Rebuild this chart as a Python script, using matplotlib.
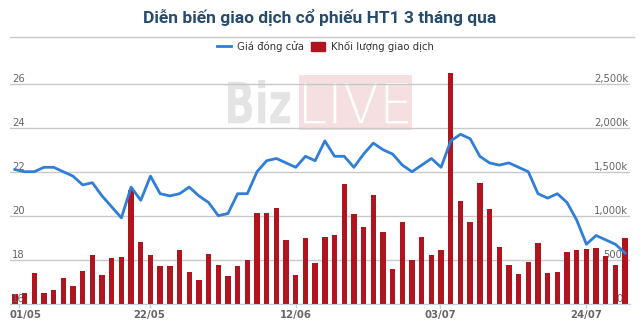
import numpy as np
import matplotlib
matplotlib.use("Agg")
import matplotlib.pyplot as plt
from matplotlib.lines import Line2D
from matplotlib.patches import Patch, PathPatch, Rectangle
from matplotlib.textpath import TextPath
from matplotlib.font_manager import FontProperties
from matplotlib.transforms import Affine2D, IdentityTransform, ScaledTranslation

title = "Diễn biến giao dịch cổ phiếu HT1 3 tháng qua"
price_label = "Giá đóng cửa"
volume_label = "Khối lượng giao dịch"

# closing price (thousand VND), one per trading session
price = [22.1, 22.0, 22.0, 22.2, 22.2, 22.0, 21.8, 21.4, 21.5, 20.9,
         20.4, 19.9, 21.3, 20.7, 21.8, 21.0, 20.9, 21.0, 21.3, 20.9,
         20.6, 20.0, 20.1, 21.0, 21.0, 22.0, 22.5, 22.6, 22.4, 22.2,
         22.7, 22.5, 23.4, 22.7, 22.7, 22.2, 22.8, 23.3, 23.0, 22.8,
         22.3, 22.0, 22.3, 22.6, 22.2, 23.4, 23.7, 23.5, 22.7, 22.4,
         22.3, 22.4, 22.2, 22.0, 21.0, 20.8, 21.0, 20.6, 19.8, 18.7,
         19.1, 18.9, 18.7, 18.3]

# traded volume (thousand shares)
volume = [109, 121, 347, 121, 155, 287, 200, 370, 551, 325,
          521, 532, 1287, 706, 551, 434, 423, 608, 358, 272,
          562, 445, 317, 434, 498, 1030, 1030, 1083, 728, 325,
          747, 464, 758, 777, 1355, 1019, 868, 1234, 811, 392,
          932, 498, 758, 551, 611, 2620, 1170, 925, 1374, 1072,
          649, 445, 336, 475, 694, 347, 358, 585, 608, 619,
          638, 543, 445, 747]

date_labels = ["01/05", "22/05", "12/06", "03/07", "24/07"]
date_pos = [1.45, 14.9, 30, 44.9, 60]

price_ticks = [16, 18, 20, 22, 24, 26]
volume_ticks = [0, 500, 1000, 1500, 2000, 2500]

x = np.arange(1, len(price) + 1)

W, H = 640, 334
fig = plt.figure(figsize=(W / 100, H / 100), dpi=100)
fig.patch.set_facecolor("white")

# plot area in pixels
left, right, top, bottom = 10, 630, 62, 303.7
ax = fig.add_axes([left / W, 1 - bottom / H, (right - left) / W, (bottom - top) / H])
ax.patch.set_visible(False)
ax2 = ax.twinx()

px_per_vol = 44 / 500
ax.bar(x, volume, width=0.55, color="#b0141f", zorder=2)
ax.set_xlim(0.5, len(x) + 0.5)
ax.set_ylim(0, (bottom - top) / px_per_vol)
ax.set_yticks(volume_ticks)
ax.set_yticklabels([f"{v:,}k" for v in volume_ticks])
ax.yaxis.tick_right()
ax.tick_params(axis="y", length=0, pad=-1.5, labelsize=7.2, labelcolor="#666666")
for t in ax.yaxis.get_major_ticks():
    t.label2.set_ha("right")
    t.label2.set_va("bottom")
ax.grid(axis="y", color="#c8c8c8", lw=1)
ax.set_axisbelow(True)

ax.set_xticks(date_pos)
ax.set_xticklabels(date_labels)
ax.tick_params(axis="x", length=3, width=1, color="#c0d0e0", pad=1.5,
               labelsize=7.3, labelcolor="#666666")
for lbl in ax.get_xticklabels():
    lbl.set_fontweight("bold")
first = ax.get_xticklabels()[0]
first.set_transform(first.get_transform() + ScaledTranslation(6 / 100, 0, fig.dpi_scale_trans))

for s in ["top", "left", "right"]:
    ax.spines[s].set_visible(False)
ax.spines["bottom"].set_color("#c0d0e0")
ax.spines["bottom"].set_zorder(3)

ax2.plot(x, price, color="#2f7ed8", lw=2, zorder=3)
ax2.set_ylim(16, 16 + (bottom - top) / 22)
ax2.set_yticks(price_ticks)
ax2.yaxis.tick_left()
ax2.tick_params(axis="y", length=0, pad=-1.5, labelsize=7.2, labelcolor="#666666")
for t in ax2.yaxis.get_major_ticks():
    t.label1.set_ha("left")
    t.label1.set_va("bottom")
for s in ax2.spines.values():
    s.set_visible(False)

# title and separator
fig.text(0.5, 1 - 22.7 / H, title, ha="center", va="baseline",
         fontsize=12.5, fontweight="bold", color="#274b6d",
         family=["Roboto", "DejaVu Sans"])
fig.add_artist(Line2D([10 / W, 634 / W], [1 - 36.7 / H] * 2, color="#c8c8c8", lw=1))

handles = [Line2D([], [], color="#2f7ed8", lw=2),
           Patch(facecolor="#b0141f", edgecolor="#b0141f")]
fig.legend(handles, [price_label, volume_label], ncol=2, loc="center",
           bbox_to_anchor=(325.4 / W, 1 - 46.5 / H), frameon=False,
           fontsize=7.3, labelcolor="#333333", handlelength=1.4,
           handleheight=1.0, handletextpad=0.6, columnspacing=0.7,
           borderpad=0, borderaxespad=0)


# BizLIVE watermark behind the plot
def word(text, weight, x0, x1, y_top, y_base, color):
    tp = TextPath((0, 0), text, size=10, prop=FontProperties(family="DejaVu Sans", weight=weight))
    bb = tp.get_extents()
    tr = (Affine2D().translate(-bb.x0, -bb.y0)
          .scale((x1 - x0) / bb.width, (y_base - y_top) / bb.height)
          .translate(x0, H - y_base))
    fig.add_artist(PathPatch(tr.transform_path(tp), facecolor=color, edgecolor="none",
                             transform=IdentityTransform(), zorder=-2))


fig.add_artist(Rectangle((299, H - 130), 113, 55, facecolor="#f6dfe0",
                         edgecolor="none", transform=IdentityTransform(), zorder=-3))
word("Biz", "bold", 228, 290, 80, 123.3, "#e4e4e4")
word("LIVE", "light", 304, 408, 83, 123.3, "white")

fig.savefig("out.png", dpi=100)
